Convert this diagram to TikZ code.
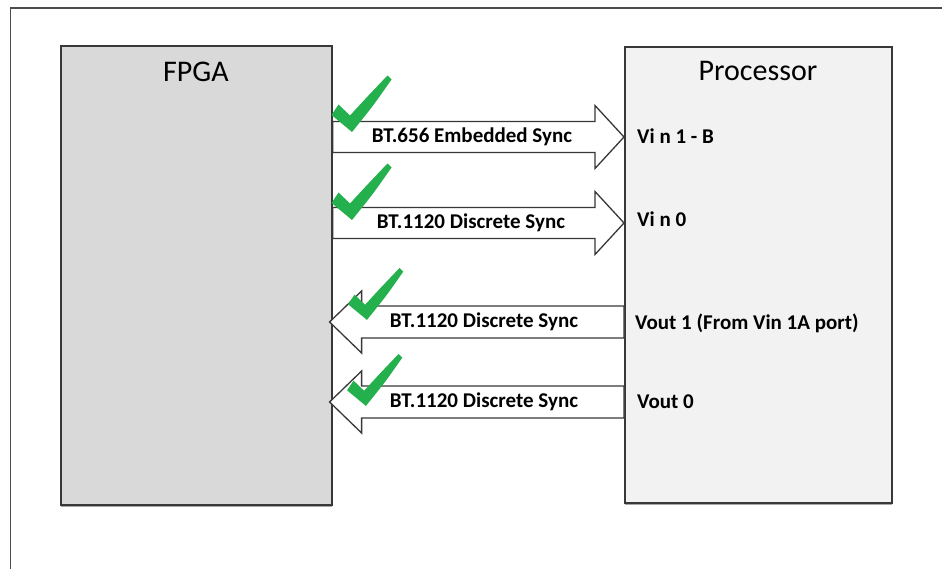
\documentclass[tikz,border=0pt]{standalone}
\usepackage{fontspec}
\setmainfont{Carlito}
\usetikzlibrary{shadows}

\definecolor{fpgagray}{RGB}{217,217,217}
\definecolor{procgray}{RGB}{242,242,242}
\definecolor{edgegray}{RGB}{56,56,56}
\definecolor{tickgreen}{RGB}{36,176,76}

\tikzset{
  chipbox/.style={draw=edgegray, line width=1.6pt, anchor=north west, inner sep=0pt,
    drop shadow={shadow xshift=0.6pt, shadow yshift=-2pt, opacity=0.35, fill=black}},
  chiptitle/.style={font=\fontsize{30}{30}\selectfont, inner sep=0pt},
  busarrow/.style={draw=edgegray, fill=white, line width=1.3pt, line join=miter},
  buslabel/.style={font=\bfseries\fontsize{21}{21}\selectfont, inner sep=0pt},
  portlabel/.style={font=\bfseries\fontsize{21}{21}\selectfont, inner sep=0pt, anchor=base west},
  tick/.style={fill=tickgreen, draw=none},
}

\begin{document}
\begin{tikzpicture}[x=1pt,y=-1pt]
\useasboundingbox (0,0) rectangle (942,569);
\fill[white] (0,0) rectangle (942,569);
% outer frame, runs off the page right and bottom
\draw[edgegray!90, line width=1.8pt] (10.5,8) rectangle (990,620);

% the two chips
\node[chipbox, fill=fpgagray, minimum width=271pt, minimum height=459pt] (fpga) at (60,45) {};
\node[chipbox, fill=procgray, minimum width=267pt, minimum height=456pt] (proc) at (624,46) {};
\node[chiptitle] (fpgaT) at (196,72) {FPGA};
\node[chiptitle] (procT) at (758,71) {Processor};

% bus lanes
\coordinate (lane1) at (472,137);
\coordinate (lane2) at (471,223);
\coordinate (lane3) at (484,322);
\coordinate (lane4) at (484,402);

% FPGA -> Processor
\foreach \lane in {lane1,lane2}{
  \draw[busarrow] ([yshift=15.5pt]fpga.east |- \lane) -- ([xshift=-29pt,yshift=15.5pt]proc.west |- \lane)
    -- ([xshift=-29pt,yshift=31.5pt]proc.west |- \lane) -- (proc.west |- \lane)
    -- ([xshift=-29pt,yshift=-31.5pt]proc.west |- \lane) -- ([xshift=-29pt,yshift=-15.5pt]proc.west |- \lane)
    -- ([yshift=-15.5pt]fpga.east |- \lane) -- cycle;
}
% Processor -> FPGA
\foreach \lane in {lane3,lane4}{
  \draw[busarrow] ([yshift=16pt]proc.west |- \lane) -- ([xshift=29pt,yshift=16pt]fpga.east |- \lane)
    -- ([xshift=29pt,yshift=31pt]fpga.east |- \lane) -- ([xshift=-3pt]fpga.east |- \lane)
    -- ([xshift=29pt,yshift=-31pt]fpga.east |- \lane) -- ([xshift=29pt,yshift=-16pt]fpga.east |- \lane)
    -- ([yshift=-16pt]proc.west |- \lane) -- cycle;
}

\node[buslabel] (bus1) at (lane1) {BT.656 Embedded Sync};
\node[buslabel] (bus2) at (lane2) {BT.1120 Discrete Sync};
\node[buslabel] (bus3) at (lane3) {BT.1120 Discrete Sync};
\node[buslabel] (bus4) at (lane4) {BT.1120 Discrete Sync};

% green ticks
\foreach \bx/\by/\s in {351/131/1, 351/219/1, 366/319/0.92, 365/405/0.92}{
  \fill[tick, shift={(\bx,\by)}, scale=\s] (1,1) -- (-19.5,-16) -- (-12.5,-26.5) -- (-1,-15.5)
    .. controls (16,-34) .. (36.5,-55.5) -- (40.5,-51.5) .. controls (22,-25) .. cycle;
}

% processor ports
\node[portlabel] (vinB) at (637,144) {Vi n 1 - B};
\node[portlabel] (vinZ) at (637,227) {Vi n 0};
\node[portlabel] (vout1) at (635,329) {Vout 1 (From Vin 1A port)};
\node[portlabel] (vout0) at (637,408) {Vout 0};
\end{tikzpicture}
\end{document}
